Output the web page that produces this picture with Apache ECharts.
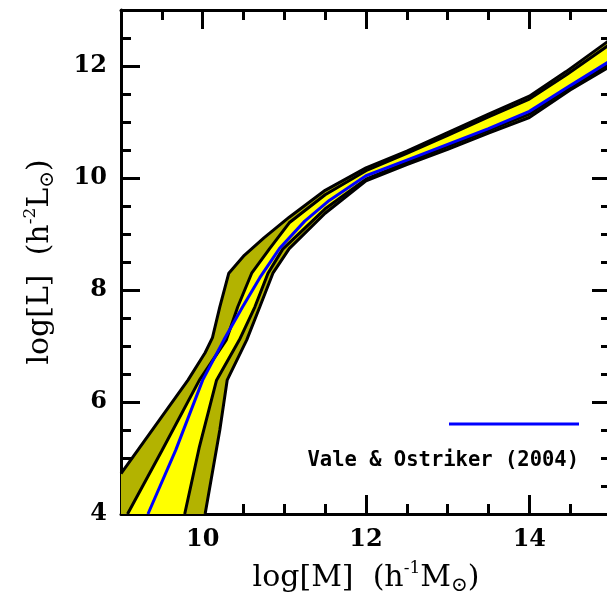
<!DOCTYPE html>
<html>
<head>
<meta charset="utf-8">
<script src="https://cdn.jsdelivr.net/npm/echarts@6/dist/echarts.min.js"></script>
<style>
  html, body { margin: 0; padding: 0; background: #fff; }
  #lum { width: 607px; height: 602px; }
</style>
</head>
<body>
<div id="lum"></div>
<script>
// axis ranges and tick positions
var xMin = 9, xMax = 15;
var yMin = 4, yMax = 13;
var xMajor = [10, 12, 14];
var yMajor = [4, 6, 8, 10, 12];

// band edges, [log M, log L]
var outerUpper = [[9.0,4.72],[9.5,5.74],[9.82,6.39],[10.03,6.88],[10.12,7.15],[10.21,7.70],[10.32,8.30],
  [10.51,8.62],[10.75,8.93],[11.06,9.30],[11.5,9.78],[12.0,10.18],[12.5,10.48],[13.0,10.81],
  [13.5,11.14],[14.0,11.46],[14.45,11.90],[15.0,12.48]];
var innerUpper = [[9.08,4.0],[9.5,5.13],[9.96,6.39],[10.29,7.11],[10.43,7.70],[10.6,8.30],[10.82,8.74],
  [11.06,9.20],[11.5,9.70],[12.0,10.13],[12.5,10.44],[13.0,10.76],[13.5,11.09],[14.0,11.41],
  [14.45,11.84],[15.0,12.40]];
var innerLower = [[9.78,4.0],[9.96,5.20],[10.17,6.39],[10.45,7.11],[10.64,7.70],[10.80,8.30],[10.98,8.73],
  [11.5,9.45],[12.0,9.98],[12.5,10.28],[13.0,10.56],[13.5,10.85],[14.0,11.14],[14.5,11.62],[15.0,12.05]];
var outerLower = [[10.03,4.0],[10.21,5.5],[10.30,6.39],[10.54,7.11],[10.70,7.70],[10.86,8.30],[11.06,8.74],
  [11.5,9.37],[12.0,9.95],[12.5,10.24],[13.0,10.51],[13.5,10.80],[14.0,11.08],[14.5,11.57],[15.0,12.0]];
// Vale & Ostriker (2004)
var valeOstriker = [[9.33,4.0],[9.67,5.14],[10.0,6.39],[10.26,7.11],[10.49,7.70],[10.70,8.22],[10.94,8.74],
  [11.25,9.23],[11.55,9.60],[12.0,10.04],[12.5,10.32],[13.0,10.60],[13.5,10.88],[14.0,11.19],
  [14.5,11.65],[15.0,12.1]];

var chartDom = document.getElementById('lum');
var myChart = echarts.init(chartDom);
var option;

function bandRender(upper, lower, fill, closeCorner) {
    return function (params, api) {
        var pts = upper.map(function (p) { return api.coord(p); });
        lower.slice().reverse().forEach(function (p) { pts.push(api.coord(p)); });
        if (closeCorner) pts.push(api.coord([xMin, yMin]));
        return {
            type: 'polygon',
            shape: { points: pts },
            style: { fill: fill, stroke: null }
        };
    };
}

function blackLine(data) {
    return {
        type: 'line',
        data: data,
        symbol: 'none',
        z: 3,
        lineStyle: { color: '#000', width: 3 }
    };
}

var tickFont = { fontFamily: 'DejaVu Serif', fontWeight: 'bold', fontSize: 24, color: '#000' };
var nameRich = {
    a: { fontFamily: 'DejaVu Serif', fontSize: 30, color: '#000', lineHeight: 36 },
    sup: { fontFamily: 'DejaVu Serif', fontSize: 17, color: '#000', verticalAlign: 'top', lineHeight: 17 },
    sub: { fontFamily: 'DejaVu Serif', fontSize: 20, color: '#000', verticalAlign: 'bottom', lineHeight: 20 }
};

function majorAxis(pos, min, max, ticks, showLabels, name, gap) {
    return {
        type: 'value', position: pos, min: min, max: max,
        name: name, nameLocation: 'middle', nameGap: gap,
        nameTextStyle: { rich: nameRich },
        axisLine: { show: true, onZero: false, lineStyle: { color: '#000', width: 3 } },
        axisTick: { show: true, inside: true, length: 19, customValues: ticks,
                    lineStyle: { color: '#000', width: 3 } },
        axisLabel: { show: showLabels, customValues: ticks, margin: 14, textStyle: tickFont },
        splitLine: { show: false }
    };
}

function minorAxis(pos, min, max) {
    return {
        type: 'value', position: pos, min: min, max: max, interval: 0.5,
        axisLine: { show: false },
        axisTick: { show: true, inside: true, length: 10, lineStyle: { color: '#000', width: 3 } },
        axisLabel: { show: false },
        splitLine: { show: false }
    };
}

var xTitle = '{a|log[M]  (h}{sup|-1}{a|M}{sub|⊙}{a|)}';
var yTitle = '{a|log[L]  (h}{sup|-2}{a|L}{sub|⊙}{a|)}';

option = {
    animation: false,
    backgroundColor: '#fff',
    grid: { left: 121, top: 10, width: 490, height: 504, outerBoundsMode: 'none', containLabel: false },
    xAxis: [
        majorAxis('bottom', xMin, xMax, xMajor, true, xTitle, 46),
        minorAxis('bottom', xMin, xMax),
        majorAxis('top', xMin, xMax, xMajor, false, '', 0),
        minorAxis('top', xMin, xMax)
    ],
    yAxis: [
        majorAxis('left', yMin, yMax, yMajor, true, yTitle, 63),
        minorAxis('left', yMin, yMax),
        majorAxis('right', yMin, yMax, yMajor, false, '', 0),
        minorAxis('right', yMin, yMax)
    ],
    graphic: [
        { type: 'line', shape: { x1: 449, y1: 424, x2: 579, y2: 424 },
          style: { stroke: '#0000ff', lineWidth: 3 }, z: 10 },
        { type: 'text', x: 579, y: 461,
          style: { text: 'Vale & Ostriker (2004)', align: 'right', verticalAlign: 'middle',
                   font: 'bold 20.5px "DejaVu Sans Mono"', fill: '#000' }, z: 10 }
    ],
    series: [
        { type: 'custom', data: [[xMin, yMin]], clip: true, silent: true, z: 1,
          renderItem: bandRender(outerUpper, outerLower, '#b3b300', true) },
        { type: 'custom', data: [[xMin, yMin]], clip: true, silent: true, z: 2,
          renderItem: bandRender(innerUpper, innerLower, '#ffff00', false) },
        blackLine(outerUpper),
        blackLine(innerUpper),
        blackLine(innerLower),
        blackLine(outerLower),
        { type: 'line', data: valeOstriker, symbol: 'none', z: 4,
          lineStyle: { color: '#0000ff', width: 3 } }
    ]
};

option && myChart.setOption(option);
</script>
</body>
</html>
